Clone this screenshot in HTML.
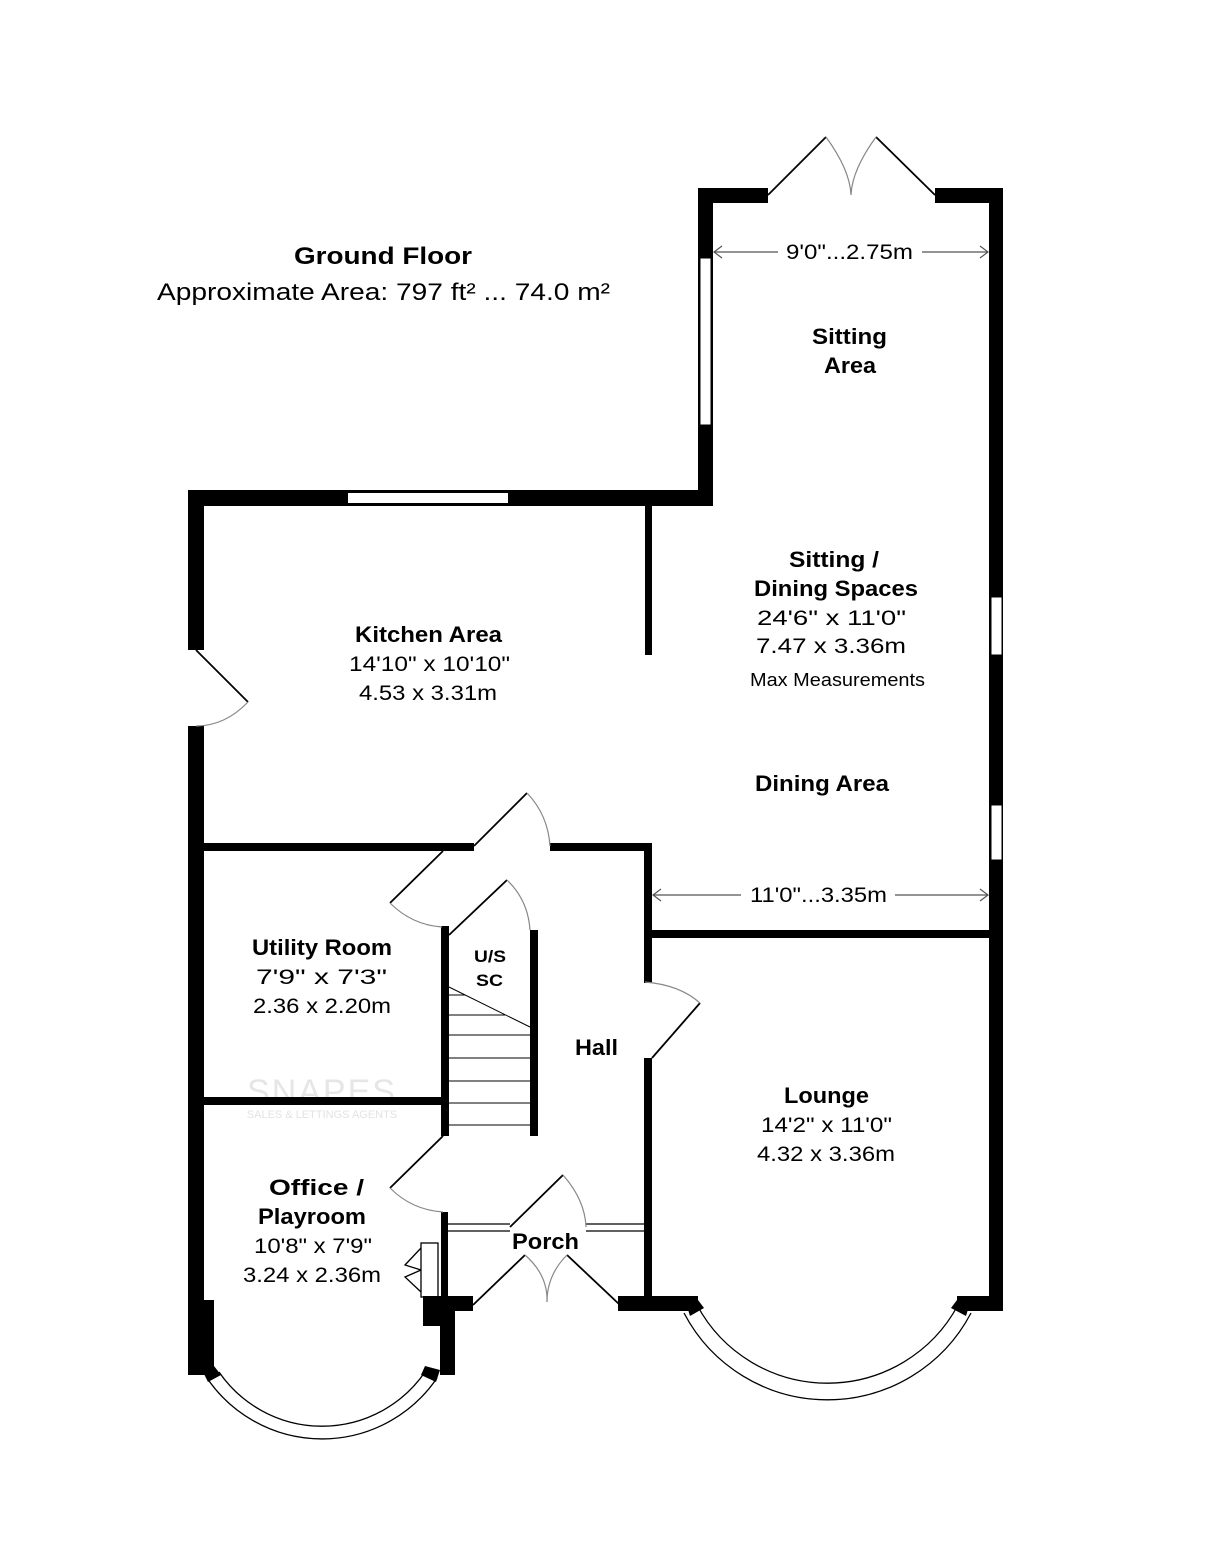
<!DOCTYPE html>
<html><head><meta charset="utf-8"><style>
html,body{margin:0;padding:0;background:#fff;}
svg{display:block;}
text{font-family:"Liberation Sans",Arial,sans-serif;fill:#000;}
.b{font-weight:bold;font-size:22px;}
.r{font-size:21px;}
</style></head><body>
<svg width="1206" height="1562" viewBox="0 0 1206 1562" xmlns="http://www.w3.org/2000/svg">
<rect width="1206" height="1562" fill="#fff"/>
<text x="322" y="1103" text-anchor="middle" style="font-size:34px;fill:#e6e6e6;letter-spacing:2px">SNAPES</text>
<text x="322" y="1118" text-anchor="middle" style="font-size:11px;fill:#e3e3e3">SALES &amp; LETTINGS AGENTS</text>
<g fill="#000">
<rect x="698" y="188" width="70" height="15"/>
<rect x="935" y="188" width="68" height="15"/>
<rect x="698" y="188" width="15" height="318"/>
<rect x="989" y="188" width="14" height="1123"/>
<rect x="188" y="490" width="525" height="16"/>
<rect x="188" y="490" width="16" height="160"/>
<rect x="188" y="726" width="16" height="576"/>
<rect x="188" y="1300" width="26" height="75"/>
<rect x="645" y="506" width="7" height="149"/>
<rect x="204" y="843" width="270" height="8"/>
<rect x="550" y="843" width="102" height="8"/>
<rect x="644" y="843" width="8" height="140"/>
<rect x="644" y="1058" width="8" height="240"/>
<rect x="652" y="930" width="340" height="8"/>
<rect x="204" y="1097" width="240" height="8"/>
<rect x="441" y="926" width="8" height="210"/>
<rect x="530" y="930" width="8" height="206"/>
<rect x="441" y="1212" width="7" height="90"/>
<rect x="644" y="1212" width="8" height="90"/>
<rect x="423" y="1296" width="50" height="15"/>
<rect x="423" y="1296" width="25" height="30"/>
<rect x="440" y="1310" width="15" height="65"/>
<rect x="618" y="1296" width="80" height="15"/>
<rect x="957" y="1296" width="46" height="15"/>
</g>
<g fill="#fff" stroke="#000" stroke-width="1">
<rect x="700" y="258" width="11" height="167"/>
<rect x="991" y="597" width="11" height="58"/>
<rect x="991" y="805" width="11" height="55"/>
<rect x="348" y="493" width="160" height="10" stroke="none"/>
</g>
<g stroke="#000" stroke-width="1.3" fill="none">
<line x1="448" y1="1224" x2="510" y2="1224"/><line x1="448" y1="1231" x2="510" y2="1231"/>
<line x1="586" y1="1224" x2="644" y2="1224"/><line x1="586" y1="1231" x2="644" y2="1231"/>
<path d="M697 1305 A148 148 0 0 0 958 1305"/>
<path d="M684 1313 A162 162 0 0 0 971 1313"/>
<path d="M219 1372 A125 125 0 0 0 425 1372"/>
<path d="M207 1378 A139 139 0 0 0 437 1378"/>
</g>
<g fill="#000">
<polygon points="686,1303 698,1300 704,1308 690,1316"/>
<polygon points="957,1300 970,1303 966,1316 951,1308"/>
<polygon points="202,1370 214,1366 221,1375 208,1382"/>
<polygon points="425,1366 440,1370 436,1382 421,1375"/>
</g>
<g stroke="#000" stroke-width="1.8" fill="none">
<line x1="768" y1="195" x2="826" y2="137"/>
<line x1="935" y1="195" x2="876" y2="137"/>
<line x1="196" y1="650" x2="248" y2="702"/>
<line x1="474" y1="846" x2="527" y2="793"/>
<line x1="390" y1="903" x2="443" y2="851"/>
<line x1="449" y1="935" x2="507" y2="880"/>
<line x1="652" y1="1058" x2="700" y2="1003"/>
<line x1="390" y1="1188" x2="443" y2="1136"/>
<line x1="510" y1="1227" x2="563" y2="1175"/>
<line x1="473" y1="1305" x2="525" y2="1255"/>
<line x1="620" y1="1305" x2="567" y2="1255"/>
</g>
<g stroke="#888" stroke-width="1.2" fill="none">
<path d="M826 137 Q850 170 851 195"/>
<path d="M876 137 Q852 170 851 195"/>
<path d="M248 702 Q225 726 196 726"/>
<path d="M527 793 Q548 815 550 846"/>
<path d="M390 903 Q412 925 442 927"/>
<path d="M507 880 Q528 900 530 930"/>
<path d="M645 982 Q680 985 700 1003"/>
<path d="M390 1188 Q412 1210 443 1212"/>
<path d="M563 1175 Q585 1200 586 1227"/>
<path d="M525 1255 Q548 1275 547 1302"/>
<path d="M567 1255 Q547 1275 547 1302"/>
</g>
<g stroke="#000" stroke-width="1" fill="none">
<line x1="449" y1="987" x2="530" y2="1027"/>
<line x1="449" y1="995" x2="465" y2="995"/>
<line x1="449" y1="1015" x2="505" y2="1015"/>
<line x1="449" y1="1035" x2="530" y2="1035"/>
<line x1="449" y1="1058" x2="530" y2="1058"/>
<line x1="449" y1="1081" x2="530" y2="1081"/>
<line x1="449" y1="1103" x2="530" y2="1103"/>
<line x1="449" y1="1125" x2="530" y2="1125"/>
<rect x="421" y="1243" width="17" height="54" stroke-width="1.3"/>
<polyline points="421,1248 405,1265 421,1270" stroke-width="1.3"/>
<polyline points="421,1270 405,1277 421,1292" stroke-width="1.3"/>
</g>
<g stroke="#555" stroke-width="1.2" fill="none">
<line x1="714" y1="252" x2="778" y2="252"/><line x1="922" y1="252" x2="988" y2="252"/>
<polyline points="722,246 714,252 722,258"/><polyline points="980,246 988,252 980,258"/>
<line x1="653" y1="895" x2="741" y2="895"/><line x1="895" y1="895" x2="988" y2="895"/>
<polyline points="661,889 653,895 661,901"/><polyline points="980,889 988,895 980,901"/>
</g>
<text x="786" y="259" class="r" textLength="127" lengthAdjust="spacingAndGlyphs">9'0"...2.75m</text>
<text x="750" y="902" class="r" textLength="137" lengthAdjust="spacingAndGlyphs">11'0"...3.35m</text>
<text x="294" y="264" style="font-size:24px;font-weight:bold" textLength="178" lengthAdjust="spacingAndGlyphs">Ground Floor</text>
<text x="157" y="300" style="font-size:24px" textLength="453" lengthAdjust="spacingAndGlyphs">Approximate Area: 797 ft² ... 74.0 m²</text>
<text x="812" y="344" class="b" textLength="75" lengthAdjust="spacingAndGlyphs">Sitting</text>
<text x="824" y="373" class="b" textLength="52" lengthAdjust="spacingAndGlyphs">Area</text>
<text x="789" y="567" class="b" textLength="90" lengthAdjust="spacingAndGlyphs">Sitting /</text>
<text x="754" y="596" class="b" textLength="164" lengthAdjust="spacingAndGlyphs">Dining Spaces</text>
<text x="757" y="625" class="r" textLength="149" lengthAdjust="spacingAndGlyphs">24'6" x 11'0"</text>
<text x="756" y="653" class="r" textLength="150" lengthAdjust="spacingAndGlyphs">7.47 x 3.36m</text>
<text x="750" y="686" style="font-size:18px" textLength="175" lengthAdjust="spacingAndGlyphs">Max Measurements</text>
<text x="755" y="791" class="b" textLength="134" lengthAdjust="spacingAndGlyphs">Dining Area</text>
<text x="355" y="642" class="b" textLength="147" lengthAdjust="spacingAndGlyphs">Kitchen Area</text>
<text x="349" y="671" class="r" textLength="161" lengthAdjust="spacingAndGlyphs">14'10" x 10'10"</text>
<text x="359" y="700" class="r" textLength="138" lengthAdjust="spacingAndGlyphs">4.53 x 3.31m</text>
<text x="252" y="955" class="b" textLength="140" lengthAdjust="spacingAndGlyphs">Utility Room</text>
<text x="256" y="984" class="r" textLength="131" lengthAdjust="spacingAndGlyphs">7'9" x 7'3"</text>
<text x="253" y="1013" class="r" textLength="138" lengthAdjust="spacingAndGlyphs">2.36 x 2.20m</text>
<text x="474" y="962" style="font-size:17px;font-weight:bold" textLength="32" lengthAdjust="spacingAndGlyphs">U/S</text>
<text x="476" y="986" style="font-size:17px;font-weight:bold" textLength="27" lengthAdjust="spacingAndGlyphs">SC</text>
<text x="575" y="1055" class="b" textLength="43" lengthAdjust="spacingAndGlyphs">Hall</text>
<text x="784" y="1103" class="b" textLength="85" lengthAdjust="spacingAndGlyphs">Lounge</text>
<text x="761" y="1132" class="r" textLength="131" lengthAdjust="spacingAndGlyphs">14'2" x 11'0"</text>
<text x="757" y="1161" class="r" textLength="138" lengthAdjust="spacingAndGlyphs">4.32 x 3.36m</text>
<text x="269" y="1195" class="b" textLength="95" lengthAdjust="spacingAndGlyphs">Office /</text>
<text x="258" y="1224" class="b" textLength="108" lengthAdjust="spacingAndGlyphs">Playroom</text>
<text x="254" y="1253" class="r" textLength="118" lengthAdjust="spacingAndGlyphs">10'8" x 7'9"</text>
<text x="243" y="1282" class="r" textLength="138" lengthAdjust="spacingAndGlyphs">3.24 x 2.36m</text>
<text x="512" y="1249" class="b" textLength="67" lengthAdjust="spacingAndGlyphs">Porch</text>
</svg>
</body></html>
